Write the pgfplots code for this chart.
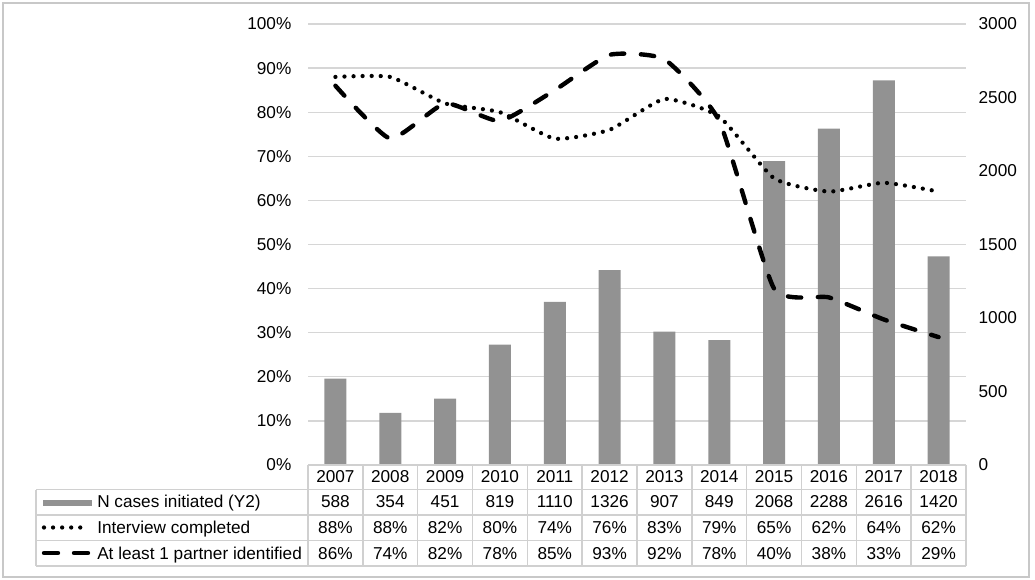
\documentclass[border=0pt]{standalone}
\usepackage{pgfplots}
\pgfplotsset{compat=1.18}
\usepackage{fontspec}
\setmainfont{Liberation Sans}
\definecolor{bargray}{RGB}{146,146,146}
\definecolor{gridgray}{RGB}{214,214,214}
\definecolor{tabgray}{RGB}{208,208,208}
\definecolor{framegray}{RGB}{200,200,200}
\newcommand\tabfont{\fontsize{12.9}{15}\selectfont}
\pgfplotsset{
  common/.style={
    scale only axis, width=493.5pt, height=330.75pt,
    at={(231pt,85.5pt)}, anchor=south west,
    xmin=-0.5, xmax=11.5, xtick=\empty,
    axis line style={draw=none}, major tick length=0pt,
    tick label style={font=\tabfont},
  }
}
\begin{document}
\tabfont
\begin{tikzpicture}
% left axis: grid and percent labels
\begin{axis}[common, ymin=0, ymax=100,
  ytick={0,10,20,30,40,50,60,70,80,90,100},
  yticklabels={0\%,10\%,20\%,30\%,40\%,50\%,60\%,70\%,80\%,90\%,100\%},
  ymajorgrids, grid style={gridgray, line width=0.9pt},
  yticklabel style={xshift=-8pt}]
\end{axis}
% right axis: bars
\begin{axis}[common, ymin=0, ymax=3000,
  ytick={0,500,1000,1500,2000,2500,3000},
  yticklabels={0,500,1000,1500,2000,2500,3000},
  yticklabel pos=right, yticklabel style={xshift=5pt}]
\addplot[ybar, bar width=16.5pt, fill=bargray, draw=none] coordinates {
(0,588) (1,354) (2,451) (3,819) (4,1110) (5,1326) (6,907) (7,849) (8,2068) (9,2288) (10,2616) (11,1420)};
\end{axis}
% left axis: lines
\begin{axis}[common, ymin=0, ymax=100, hide axis]
\addplot[smooth, tension=0.3, line width=3.2pt, line cap=round, dash pattern=on 0pt off 6.8pt] coordinates {
(0,88) (1,88) (2,82) (3,80) (4,74) (5,76) (6,83) (7,79) (8,65) (9,62) (10,64) (11,62)};
\addplot[smooth, tension=0.3, line width=3.3pt, line cap=round, dash pattern=on 10pt off 12.5pt] coordinates {
(0,86) (1,74) (2,82) (3,78) (4,85) (5,93) (6,92) (7,78) (8,40) (9,38) (10,33) (11,29)};
\end{axis}
% frame and data table (pixel units, origin top-left)
\begin{scope}[x=0.75pt,y=-0.75pt,shift={(0pt,434.25pt)}]
\path (0,0) rectangle (1035,579);
\draw[framegray, line width=0.9pt] (3,3) rectangle (1029,577);
\begin{scope}[tabgray, line width=1.1pt]
\draw (308,465) -- (966,465);
\foreach \y in {489.5,515,540.5,566} \draw (36,\y) -- (966,\y);
\draw (36,489.5) -- (36,566);
\foreach \k in {0,...,12} \draw ({308+54.833*\k},465) -- ({308+54.833*\k},566);
\end{scope}
\foreach \v [count=\i from 0] in {2007,2008,2009,2010,2011,2012,2013,2014,2015,2016,2017,2018}
  \node[anchor=base, inner sep=0pt] at ({308+54.833*(\i+0.5)},482.5) {\v};
\foreach \v [count=\i from 0] in {588,354,451,819,1110,1326,907,849,2068,2288,2616,1420}
  \node[anchor=base, inner sep=0pt] at ({308+54.833*(\i+0.5)},507.5) {\v};
\foreach \v [count=\i from 0] in {88,88,82,80,74,76,83,79,65,62,64,62}
  \node[anchor=base, inner sep=0pt] at ({308+54.833*(\i+0.5)},533) {\v\%};
\foreach \v [count=\i from 0] in {86,74,82,78,85,93,92,78,40,38,33,29}
  \node[anchor=base, inner sep=0pt] at ({308+54.833*(\i+0.5)},559) {\v\%};
\node[anchor=base west, inner sep=0pt] at (97,507.5) {N cases initiated (Y2)};
\node[anchor=base west, inner sep=0pt] at (97,533) {Interview completed};
\node[anchor=base west, inner sep=0pt] at (97,559) {At least 1 partner identified};
\fill[bargray] (43,499.5) rectangle (92,505.5);
\draw[line width=3.2pt, line cap=round, dash pattern=on 0pt off 6.8pt] (44,527.5) -- (89,527.5);
\draw[line width=3.3pt, line cap=round] (44,553) -- (58,553);
\draw[line width=3.3pt, line cap=round] (74,553) -- (88,553);
\end{scope}
\end{tikzpicture}
\end{document}
